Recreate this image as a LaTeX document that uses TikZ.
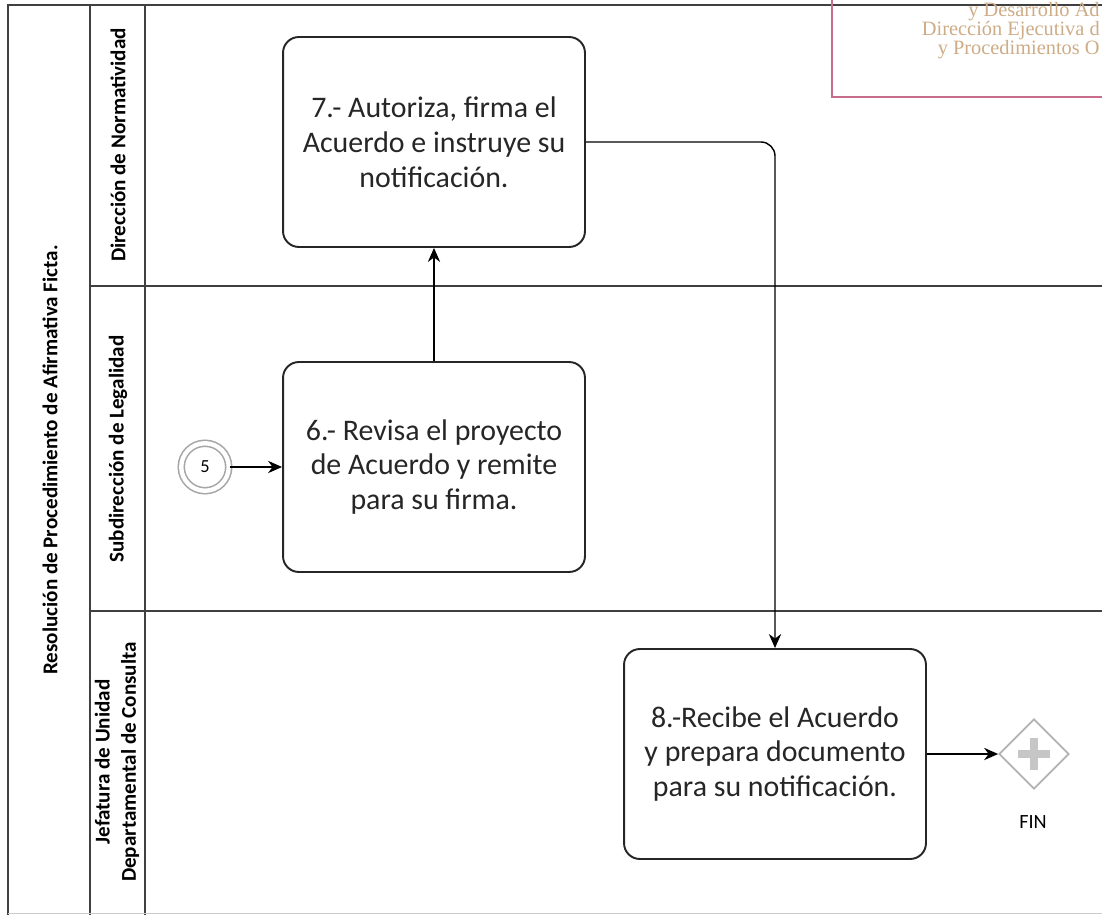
\documentclass[tikz,border=0pt]{standalone}
\usepackage{fontspec}
\setmainfont{Carlito}
\newfontfamily\stampfont{Liberation Serif}
\usetikzlibrary{shapes.geometric,arrows.meta}

\definecolor{poolgray}{gray}{0.25}
\definecolor{stamprule}{RGB}{200,110,140}
\definecolor{stampink}{RGB}{205,172,135}

\tikzset{
	task/.style={draw=black!85, line width=1.1pt, rounded corners=9pt,
		minimum width=6.04cm, minimum height=4.2cm, align=center,
		text=black!85, font=\fontsize{17}{19.8}\selectfont},
	lanelabel/.style={rotate=90, align=center, font=\bfseries\fontsize{12}{15}\selectfont},
	flow/.style={-{Stealth[length=8pt,width=7pt]}, line width=0.8pt},
	stamptext/.style={stampink, anchor=base east, inner sep=0pt, font=\stampfont\fontsize{11.6}{11.6}\selectfont},
}

\begin{document}
\begin{tikzpicture}[x=0.02cm,y=-0.02cm]
	\useasboundingbox (0,0) rectangle (1102,915);
	\clip (0,0) rectangle (1102,915);

	% pool frame and lanes
	\draw[poolgray, line width=0.9pt] (8,915) -- (8,5) -- (1110,5);
	\draw[poolgray, line width=0.9pt] (90,5) -- (90,915);
	\draw[poolgray, line width=0.9pt] (145,5) -- (145,915);
	\draw[poolgray, line width=0.9pt] (90,286) -- (1110,286);
	\draw[poolgray, line width=0.9pt] (90,611) -- (1110,611);
	\draw[gray!40] (8,913) -- (1110,913);

	\node[lanelabel] (pool) at (50,460) {Resolución de Procedimiento de Afirmativa Ficta.};
	\node[lanelabel] (norm) at (118,145) {Dirección de Normatividad};
	\node[lanelabel] (leg) at (118,449) {Subdirección de Legalidad};
	\node[lanelabel] (jud) at (117,762) {Jefatura de Unidad\\Departamental de Consulta};

	% tasks
	\node[task] (t7) at (434,142) {7.- Autoriza, firma el\\Acuerdo e instruye su\\notificación.};
	\node[task] (t6) at (434,467) {6.- Revisa el proyecto\\de Acuerdo y remite\\para su firma.};
	\node[task] (t8) at (775,754) {8.-Recibe el Acuerdo\\y prepara documento\\para su notificación.};

	% link event and end gateway
	\node[circle, draw=gray!70, line width=0.9pt, double=white, double distance=2.5pt,
		minimum size=0.95cm, inner sep=0, font=\fontsize{10.5}{10.5}\selectfont] (s5) at (205,467) {5};
	\node[diamond, draw=gray!60, line width=1pt, minimum size=1.4cm, inner sep=0] (fin) at (1034,754) {};
	\draw[gray!45, line width=4.5pt] (fin.center) ++(-16,0) -- ++(32,0);
	\draw[gray!45, line width=4.5pt] (fin.center) ++(0,-16) -- ++(0,32);
	\node[font=\fontsize{11.5}{11.5}\selectfont] (finlbl) at (1033,822) {FIN};

	\draw[flow] (s5) -- (t6);
	\draw[flow] (t6) -- (t7);
	\draw[flow, rounded corners=8pt] (t7.east) -| (t8.north);
	\draw[flow] (t8) -- (fin);

	% stamp in the corner
	\draw[stamprule, line width=1.2pt] (832,-5) rectangle (1115,97);
	\node[stamptext] (stamp1) at (1100,17) {y Desarrollo Ad};
	\node[stamptext] (stamp2) at (1100,36) {Dirección Ejecutiva d};
	\node[stamptext] (stamp3) at (1100,55) {y Procedimientos O};

\end{tikzpicture}
\end{document}
